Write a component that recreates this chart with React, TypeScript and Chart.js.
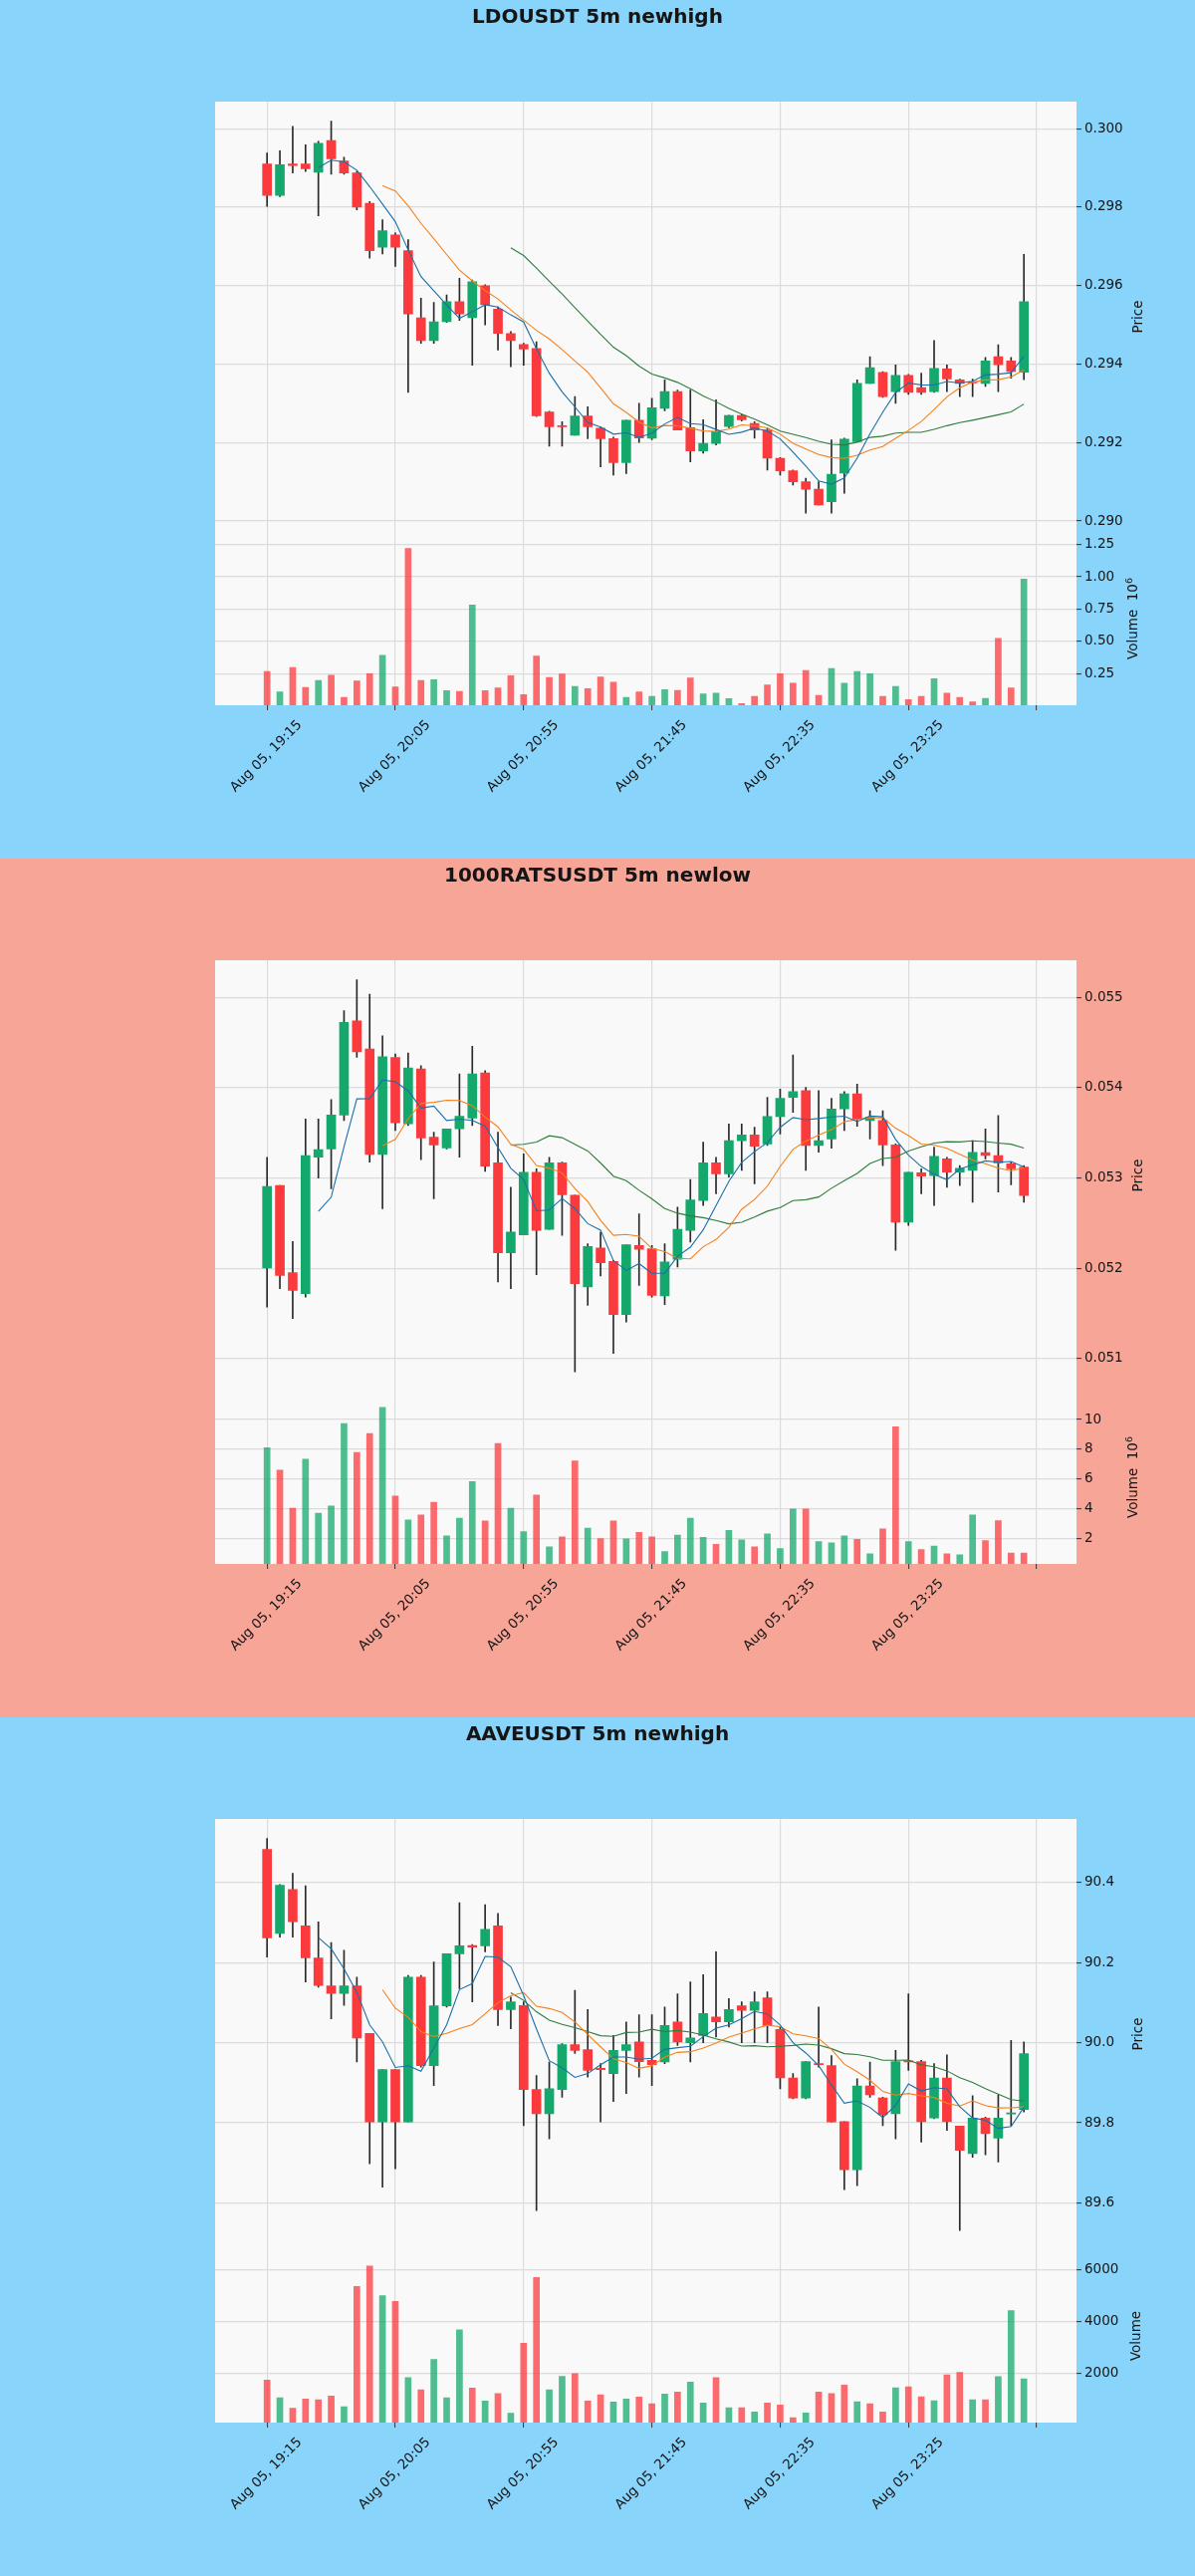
import React, { useEffect, useRef } from "react";
import { Chart, registerables } from "chart.js";

Chart.register(...registerables);

// ---------- shared axis data ----------
const xTickPositions = [0, 10, 20, 30, 40, 50, 60];
const xTickLabels = [
  "Aug 05, 19:15",
  "Aug 05, 20:05",
  "Aug 05, 20:55",
  "Aug 05, 21:45",
  "Aug 05, 22:35",
  "Aug 05, 23:25",
  "",
];
const maPeriods = [5, 10, 20];

// ---------- LDOUSDT ----------
const ldoOpen = [
  0.2991, 0.2983, 0.2991, 0.2991, 0.29889, 0.2997, 0.29918, 0.29887, 0.2981, 0.29698,
  0.29729, 0.29689, 0.29518, 0.2946, 0.29508, 0.29559, 0.29518, 0.296, 0.2954, 0.29478,
  0.2945, 0.2944, 0.29278, 0.29242, 0.29219, 0.29268, 0.29237, 0.2921, 0.29149, 0.29257,
  0.29211, 0.29287, 0.2933, 0.29238, 0.29179, 0.29198, 0.29241, 0.29269, 0.29249, 0.29232,
  0.2916, 0.29128, 0.291, 0.29081, 0.29049, 0.29122, 0.29202, 0.29351, 0.29379, 0.2933,
  0.29371, 0.2934, 0.2933, 0.29388, 0.2936, 0.29355, 0.29351, 0.29419, 0.29408, 0.29379,
];
const ldoHigh = [
  0.29938, 0.29944, 0.30006, 0.29959, 0.29968, 0.30019, 0.29927, 0.29891, 0.29814, 0.29768,
  0.29734, 0.29717, 0.29568, 0.29557, 0.29576, 0.29619, 0.29614, 0.29602, 0.29546, 0.29483,
  0.29453, 0.29457, 0.2928, 0.29253, 0.29317, 0.29291, 0.2924, 0.29214, 0.29257, 0.293,
  0.29313, 0.2936, 0.29334, 0.29334, 0.29258, 0.29309, 0.2927, 0.29272, 0.29253, 0.29236,
  0.29162, 0.2913, 0.29109, 0.291, 0.29207, 0.29211, 0.2936, 0.29419, 0.29381, 0.29398,
  0.29374, 0.29377, 0.2946, 0.29398, 0.29362, 0.29362, 0.29417, 0.29449, 0.29417, 0.2968,
];
const ldoLow = [
  0.29802, 0.29827, 0.29887, 0.29891, 0.29778, 0.29884, 0.29884, 0.29793, 0.2967, 0.29681,
  0.29649, 0.29328, 0.29453, 0.29453, 0.29506, 0.29511, 0.29397, 0.295, 0.29436, 0.29393,
  0.29397, 0.29266, 0.29191, 0.29191, 0.29219, 0.2921, 0.29138, 0.29117, 0.29121, 0.292,
  0.29207, 0.29281, 0.29232, 0.29151, 0.29173, 0.29194, 0.29238, 0.29255, 0.29211, 0.2913,
  0.29117, 0.29092, 0.2902, 0.29041, 0.2902, 0.29071, 0.29202, 0.29351, 0.29315, 0.293,
  0.29323, 0.29323, 0.29328, 0.2933, 0.29317, 0.29317, 0.29343, 0.2933, 0.29364, 0.2936,
];
const ldoClose = [
  0.2983, 0.29908, 0.29906, 0.29898, 0.29963, 0.29923, 0.29887, 0.298, 0.29689, 0.2974,
  0.29698, 0.29528, 0.2946, 0.29508, 0.29559, 0.29528, 0.2961, 0.29551, 0.29478, 0.2946,
  0.29438, 0.29268, 0.2924, 0.2924, 0.29268, 0.2924, 0.2921, 0.29149, 0.29257, 0.29212,
  0.29289, 0.2933, 0.29232, 0.29179, 0.29198, 0.29228, 0.29269, 0.29258, 0.29232, 0.2916,
  0.29128, 0.291, 0.29081, 0.29041, 0.29119, 0.29209, 0.29351, 0.29391, 0.29317, 0.29371,
  0.29328, 0.29328, 0.29389, 0.29362, 0.29351, 0.29352, 0.29408, 0.29398, 0.29381, 0.29559,
];
const ldoVolume = [
  267000, 108000, 298000, 144000, 198000, 239000, 67000, 193000, 249000, 393000,
  147000, 1219000, 198000, 203000, 118000, 113000, 781000, 118000, 139000, 234000,
  87000, 386000, 221000, 247000, 152000, 134000, 224000, 185000, 67000, 108000,
  75000, 126000, 121000, 216000, 93000, 100000, 57000, 18000, 75000, 162000,
  249000, 177000, 275000, 82000, 290000, 177000, 267000, 249000, 75000, 152000,
  49000, 75000, 211000, 100000, 67000, 31000, 59000, 524000, 139000, 982000,
];
const ldoPriceTicks = [0.29, 0.292, 0.294, 0.296, 0.298, 0.3];
const ldoVolumeTicks = [250000, 500000, 750000, 1000000, 1250000];

// ---------- 1000RATSUSDT ----------
const ratsOpen = [
  0.052002, 0.052917, 0.05195, 0.051718, 0.05323, 0.053322, 0.053698, 0.054742, 0.054428, 0.05326,
  0.054336, 0.053599, 0.054207, 0.053451, 0.053333, 0.053544, 0.053665, 0.054163, 0.053167, 0.052172,
  0.052371, 0.053064, 0.05243, 0.053167, 0.05281, 0.051792, 0.052224, 0.052076, 0.051486, 0.052253,
  0.052216, 0.051693, 0.052098, 0.052419, 0.052751, 0.053167, 0.053046, 0.053414, 0.053477, 0.053378,
  0.05368, 0.053894, 0.053968, 0.05336, 0.053433, 0.053765, 0.053931, 0.053636, 0.053636, 0.053367,
  0.052511, 0.053057, 0.053027, 0.053212, 0.053064, 0.053083, 0.05328, 0.053249, 0.053156, 0.05312,
];
const ratsHigh = [
  0.05323, 0.052917, 0.052297, 0.053654, 0.053654, 0.053868, 0.054853, 0.055195, 0.055037, 0.054576,
  0.054373, 0.054384, 0.054244, 0.053507, 0.053544, 0.054152, 0.054458, 0.054189, 0.053507, 0.052898,
  0.053267, 0.053101, 0.05323, 0.053175, 0.05281, 0.052271, 0.0524, 0.052087, 0.05226, 0.052603,
  0.052253, 0.052271, 0.052677, 0.052983, 0.053396, 0.05323, 0.053599, 0.053599, 0.053562, 0.053894,
  0.053986, 0.054362, 0.054004, 0.053968, 0.053883, 0.053957, 0.054041, 0.053746, 0.053746, 0.053378,
  0.053064, 0.053101, 0.053341, 0.05323, 0.053138, 0.053414, 0.053544, 0.053691, 0.053175, 0.053138,
];
const ratsLow = [
  0.05157, 0.051774, 0.051442, 0.051681, 0.052998, 0.05288, 0.053636, 0.054336, 0.053175, 0.052659,
  0.053525, 0.05358, 0.053204, 0.052769, 0.053322, 0.05323, 0.05358, 0.053072, 0.051847, 0.051774,
  0.052371, 0.051929, 0.05243, 0.052364, 0.050852, 0.051589, 0.051914, 0.051055, 0.051405, 0.05181,
  0.051681, 0.051597, 0.052013, 0.05229, 0.052695, 0.052824, 0.053009, 0.053083, 0.052935, 0.05336,
  0.053488, 0.053728, 0.053083, 0.053285, 0.05333, 0.053525, 0.053573, 0.053433, 0.053138, 0.052198,
  0.052474, 0.052824, 0.052695, 0.052898, 0.052917, 0.052732, 0.053212, 0.052843, 0.052924, 0.052732,
];
const ratsClose = [
  0.052906, 0.051921, 0.051755, 0.053249, 0.053315, 0.053698, 0.054723, 0.054399, 0.05326, 0.054344,
  0.05361, 0.054218, 0.053444, 0.053367, 0.053544, 0.053684, 0.054152, 0.053131, 0.052172, 0.0524,
  0.053064, 0.052419, 0.053167, 0.052813, 0.051829, 0.052242, 0.052061, 0.051486, 0.05226, 0.052209,
  0.0517, 0.052069, 0.05243, 0.052758, 0.053167, 0.053046, 0.053414, 0.053477, 0.053352, 0.05368,
  0.053883, 0.053957, 0.05336, 0.053414, 0.053765, 0.053931, 0.053654, 0.053673, 0.053367, 0.052511,
  0.053064, 0.05302, 0.053241, 0.053064, 0.053108, 0.053285, 0.053249, 0.053167, 0.053101, 0.052806,
];
const ratsVolume = [
  8090000, 6590000, 4010000, 7330000, 3680000, 4170000, 9730000, 7780000, 9060000, 10810000,
  4840000, 3230000, 3570000, 4420000, 2150000, 3340000, 5810000, 3160000, 8390000, 4010000,
  2440000, 4910000, 1410000, 2090000, 7200000, 2670000, 1970000, 3160000, 1950000, 2380000,
  2090000, 1100000, 2200000, 3340000, 2060000, 1590000, 2530000, 1880000, 1410000, 2290000,
  1300000, 3970000, 3970000, 1770000, 1680000, 2150000, 1910000, 940000, 2620000, 9510000,
  1770000, 1230000, 1460000, 940000, 870000, 3570000, 1840000, 3180000, 990000, 990000,
];
const ratsPriceTicks = [0.051, 0.052, 0.053, 0.054, 0.055];
const ratsVolumeTicks = [2000000, 4000000, 6000000, 8000000, 10000000];

// ---------- AAVEUSDT ----------
const aaveOpen = [
  90.483, 90.273, 90.383, 90.292, 90.212, 90.142, 90.123, 90.142, 90.023, 89.802,
  89.933, 89.802, 90.164, 89.943, 90.092, 90.222, 90.243, 90.242, 90.292, 90.083,
  90.093, 89.883, 89.823, 89.883, 89.995, 89.983, 89.935, 89.923, 89.981, 90.002,
  89.956, 89.952, 90.052, 90.0, 90.018, 90.064, 90.052, 90.092, 90.081, 90.112,
  90.033, 89.912, 89.862, 89.948, 89.943, 89.803, 89.683, 89.892, 89.862, 89.823,
  89.955, 89.953, 89.812, 89.912, 89.792, 89.723, 89.812, 89.762, 89.822, 89.833,
];
const aaveHigh = [
  90.51, 90.395, 90.423, 90.392, 90.302, 90.25, 90.231, 90.164, 90.023, 89.933,
  89.933, 90.168, 90.168, 90.202, 90.222, 90.35, 90.245, 90.345, 90.323, 90.114,
  90.102, 89.918, 89.952, 89.998, 90.131, 90.083, 89.948, 90.018, 90.052, 90.07,
  90.07, 90.089, 90.122, 90.152, 90.17, 90.227, 90.11, 90.102, 90.127, 90.127,
  90.039, 89.923, 89.953, 90.089, 89.968, 89.803, 89.91, 89.952, 89.864, 89.981,
  90.122, 89.956, 89.948, 89.97, 89.792, 89.868, 89.814, 89.87, 90.006, 90.002,
];
const aaveLow = [
  90.214, 90.264, 90.264, 90.152, 90.139, 90.06, 90.093, 89.952, 89.698, 89.639,
  89.685, 89.802, 89.939, 89.893, 90.089, 90.135, 90.102, 90.227, 90.043, 90.035,
  89.793, 89.581, 89.76, 89.864, 89.973, 89.914, 89.802, 89.853, 89.873, 89.914,
  89.893, 89.948, 89.993, 89.952, 90.0, 90.014, 90.039, 90.0, 90.0, 90.0,
  89.885, 89.86, 89.86, 89.939, 89.802, 89.633, 89.643, 89.864, 89.793, 89.76,
  89.931, 89.752, 89.81, 89.781, 89.531, 89.714, 89.72, 89.702, 89.793, 89.827,
];
const aaveClose = [
  90.262, 90.393, 90.302, 90.212, 90.143, 90.123, 90.142, 90.012, 89.802, 89.933,
  89.802, 90.164, 89.943, 90.092, 90.222, 90.242, 90.239, 90.283, 90.083, 90.102,
  89.883, 89.823, 89.885, 89.995, 89.981, 89.931, 89.933, 89.981, 89.995, 89.953,
  89.945, 90.043, 90.002, 90.012, 90.073, 90.052, 90.083, 90.081, 90.102, 90.043,
  89.912, 89.862, 89.953, 89.945, 89.802, 89.683, 89.892, 89.87, 89.82, 89.953,
  89.952, 89.803, 89.912, 89.803, 89.731, 89.812, 89.773, 89.812, 89.825, 89.973,
];
const aaveVolume = [
  1719, 1042, 633, 990, 965, 1105, 696, 5335, 6128, 4978,
  4760, 1821, 1348, 2524, 1042, 3661, 1412, 914, 1208, 441,
  3150, 5680, 1348, 1872, 1974, 914, 1157, 875, 990, 1067,
  812, 1182, 1259, 1642, 837, 1821, 658, 658, 492, 837,
  760, 275, 454, 1259, 1208, 1527, 888, 812, 492, 1425,
  1463, 1080, 927, 1923, 2026, 965, 965, 1859, 4403, 1770,
];
const aavePriceTicks = [89.6, 89.8, 90.0, 90.2, 90.4];
const aaveVolumeTicks = [2000, 4000, 6000];

// ---------- styling ----------
const SECTION_W = 1200;
const SECTION_H = 862;
const PLOT_LEFT = 216;
const PLOT_RIGHT = 1081;
const PLOT_TOP = 102;
const PLOT_BOTTOM = 708;
const Y_AXIS_W = 70;
const X_MIN = -4.05;
const X_MAX = 63.1;

const UP_COLOR = "#14a86c";
const DOWN_COLOR = "#fb3a3d";
const UP_VOL = "rgba(20,168,108,0.75)";
const DOWN_VOL = "rgba(251,58,61,0.75)";
const WICK_COLOR = "#2a2a2a";
const MA_COLORS = ["#1b6fa8", "#f5801a", "#2f7d3c"];
const GRID_COLOR = "#dcdcdc";
const TEXT_COLOR = "#151515";
const FONT = "DejaVu Sans";

type PanelDef = {
  title: string;
  bg: string;
  open: number[];
  high: number[];
  low: number[];
  close: number[];
  volume: number[];
  priceTicks: number[];
  volumeTicks: number[];
  priceFmt: (v: number) => string;
  volFmt: (v: number) => string;
  volExp: string;
};

function movingAverage(values: number[], period: number): (number | null)[] {
  return values.map((_, i) => {
    if (i < period - 1) return null;
    let s = 0;
    for (let k = i - period + 1; k <= i; k++) s += values[k];
    return s / period;
  });
}

const plotBackground = {
  id: "plotBackground",
  beforeDraw(chart: any) {
    const { ctx, chartArea: a } = chart;
    ctx.save();
    ctx.fillStyle = "#f9f9f9";
    ctx.fillRect(a.left, a.top, a.right - a.left, a.bottom - a.top);
    ctx.restore();
  },
};

function CandlePanel({ def }: { def: PanelDef }) {
  const ref = useRef<HTMLCanvasElement | null>(null);

  useEffect(() => {
    if (!ref.current) return;
    const isUp = def.close.map((c, i) => c >= def.open[i]);
    const minLow = Math.min(...def.low);
    const maxHigh = Math.max(...def.high);
    const pad = (maxHigh - minLow) * 0.05;
    const volMin = 0.3 * Math.min(...def.volume);
    const volMax = 1.1 * Math.max(...def.volume);

    const maSets = maPeriods.map((p, k) => {
      const ma = movingAverage(def.close, p);
      return {
        type: "line" as const,
        yAxisID: "yPrice",
        data: ma.map((v, i) => ({ x: i, y: v })),
        borderColor: MA_COLORS[k],
        borderWidth: 1.1,
        pointRadius: 0,
        fill: false,
        tension: 0,
        spanGaps: false,
      };
    });

    const tickFont = { family: FONT, size: 13.5 };
    const gridOpts = {
      color: GRID_COLOR,
      lineWidth: 1.2,
      drawTicks: true,
      tickLength: 5,
      tickColor: "#333333",
      tickWidth: 1,
    };

    const chart = new Chart(ref.current, {
      type: "bar",
      data: {
        datasets: [
          ...maSets,
          {
            type: "bar",
            yAxisID: "yPrice",
            data: def.open.map((o, i) => ({ x: i, y: [o, def.close[i]] })),
            backgroundColor: isUp.map((u) => (u ? UP_COLOR : DOWN_COLOR)),
            borderWidth: 0,
            barThickness: 9,
            minBarLength: 1.2,
            grouped: false,
          },
          {
            type: "bar",
            yAxisID: "yPrice",
            data: def.low.map((l, i) => ({ x: i, y: [l, def.high[i]] })),
            backgroundColor: WICK_COLOR,
            borderWidth: 0,
            barThickness: 1,
            grouped: false,
          },
          {
            type: "bar",
            yAxisID: "yVol",
            data: def.volume.map((v, i) => ({ x: i, y: v })),
            backgroundColor: isUp.map((u) => (u ? UP_VOL : DOWN_VOL)),
            borderWidth: 0,
            barThickness: 6,
            grouped: false,
          },
        ] as any,
      },
      options: {
        animation: false,
        responsive: false,
        events: [],
        layout: {
          padding: {
            left: PLOT_LEFT,
            top: PLOT_TOP,
            right: SECTION_W - PLOT_RIGHT - Y_AXIS_W,
            bottom: 0,
          },
        },
        plugins: {
          legend: { display: false },
          tooltip: { enabled: false },
        },
        scales: {
          x: {
            type: "linear",
            position: "bottom",
            min: X_MIN,
            max: X_MAX,
            offset: false,
            afterBuildTicks: (scale: any) => {
              scale.ticks = xTickPositions.map((v) => ({ value: v }));
            },
            afterFit: (scale: any) => {
              scale.height = SECTION_H - PLOT_BOTTOM;
            },
            ticks: {
              autoSkip: false,
              maxRotation: 45,
              minRotation: 45,
              labelOffset: 33,
              padding: 7,
              font: tickFont,
              color: TEXT_COLOR,
              callback: (_v: any, i: number) => xTickLabels[i] ?? "",
            },
            grid: { ...gridOpts, offset: false },
            border: { display: false },
          },
          yPrice: {
            type: "linear",
            position: "right",
            stack: "main",
            stackWeight: 2.5,
            min: minLow - pad,
            max: maxHigh + pad,
            afterBuildTicks: (scale: any) => {
              scale.ticks = def.priceTicks.map((v) => ({ value: v }));
            },
            afterFit: (scale: any) => {
              scale.width = Y_AXIS_W;
            },
            ticks: {
              padding: 3,
              font: tickFont,
              color: TEXT_COLOR,
              callback: (v: any) => def.priceFmt(Number(v)),
            },
            grid: gridOpts,
            border: { display: false },
          },
          yVol: {
            type: "linear",
            position: "right",
            stack: "main",
            stackWeight: 1,
            min: volMin,
            max: volMax,
            afterBuildTicks: (scale: any) => {
              scale.ticks = def.volumeTicks.map((v) => ({ value: v }));
            },
            afterFit: (scale: any) => {
              scale.width = Y_AXIS_W;
            },
            ticks: {
              padding: 3,
              font: tickFont,
              color: TEXT_COLOR,
              callback: (v: any) => def.volFmt(Number(v)),
            },
            grid: gridOpts,
            border: { display: false },
          },
        },
      } as any,
      plugins: [plotBackground],
    });
    return () => chart.destroy();
  }, [def]);

  const priceH = ((PLOT_BOTTOM - PLOT_TOP) * 2.5) / 3.5;
  const priceCenterY = PLOT_TOP + priceH / 2;
  const volCenterY = PLOT_TOP + priceH + (PLOT_BOTTOM - PLOT_TOP - priceH) / 2;

  const labelStyle: React.CSSProperties = {
    position: "absolute",
    transform: "translate(-50%, -50%) rotate(-90deg)",
    fontFamily: FONT,
    fontSize: 13.5,
    color: TEXT_COLOR,
    whiteSpace: "nowrap",
    lineHeight: "16px",
  };

  return (
    <div
      style={{
        position: "relative",
        width: SECTION_W,
        height: SECTION_H,
        background: def.bg,
        overflow: "hidden",
      }}
    >
      <canvas
        ref={ref}
        width={SECTION_W}
        height={SECTION_H}
        style={{ display: "block", width: SECTION_W, height: SECTION_H }}
      />
      <div
        style={{
          position: "absolute",
          top: 4,
          left: 0,
          width: SECTION_W,
          textAlign: "center",
          fontFamily: FONT,
          fontWeight: "bold",
          fontSize: 20,
          lineHeight: "24px",
          color: TEXT_COLOR,
        }}
      >
        {def.title}
      </div>
      <div style={{ ...labelStyle, left: 1142, top: priceCenterY }}>Price</div>
      <div style={{ ...labelStyle, left: def.volExp ? 1137 : 1140, top: volCenterY }}>
        Volume
        {def.volExp ? (
          <span>
            {"\u00a0\u00a010"}
            <sup style={{ fontSize: 9.5, verticalAlign: "5px", lineHeight: 0 }}>{def.volExp}</sup>
          </span>
        ) : null}
      </div>
    </div>
  );
}

const panels: PanelDef[] = [
  {
    title: "LDOUSDT 5m newhigh",
    bg: "#89d4fb",
    open: ldoOpen,
    high: ldoHigh,
    low: ldoLow,
    close: ldoClose,
    volume: ldoVolume,
    priceTicks: ldoPriceTicks,
    volumeTicks: ldoVolumeTicks,
    priceFmt: (v) => v.toFixed(3),
    volFmt: (v) => (v / 1e6).toFixed(2),
    volExp: "6",
  },
  {
    title: "1000RATSUSDT 5m newlow",
    bg: "#f7a597",
    open: ratsOpen,
    high: ratsHigh,
    low: ratsLow,
    close: ratsClose,
    volume: ratsVolume,
    priceTicks: ratsPriceTicks,
    volumeTicks: ratsVolumeTicks,
    priceFmt: (v) => v.toFixed(3),
    volFmt: (v) => (v / 1e6).toFixed(0),
    volExp: "6",
  },
  {
    title: "AAVEUSDT 5m newhigh",
    bg: "#89d4fb",
    open: aaveOpen,
    high: aaveHigh,
    low: aaveLow,
    close: aaveClose,
    volume: aaveVolume,
    priceTicks: aavePriceTicks,
    volumeTicks: aaveVolumeTicks,
    priceFmt: (v) => v.toFixed(1),
    volFmt: (v) => String(Math.round(v)),
    volExp: "",
  },
];

export default function App() {
  useEffect(() => {
    document.body.style.margin = "0";
  }, []);
  return (
    <div style={{ width: SECTION_W }}>
      {panels.map((p) => (
        <CandlePanel key={p.title} def={p} />
      ))}
    </div>
  );
}
